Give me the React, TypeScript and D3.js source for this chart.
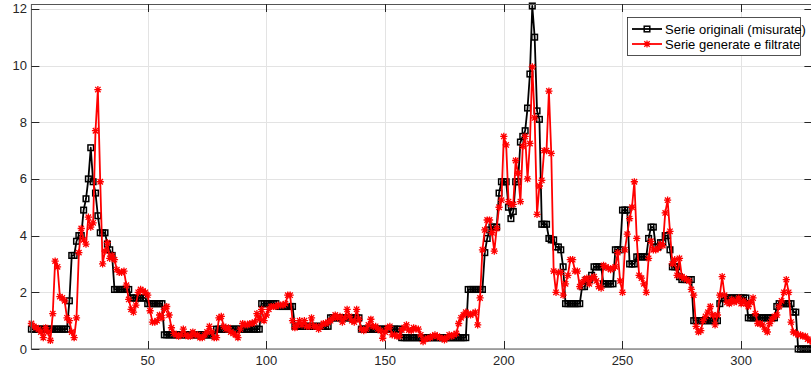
import React, { useEffect, useRef } from 'react';
import * as d3 from 'd3';

// Serie originali (misurate), indices 1..330
const originali: number[] = [
  0.7, 0.7, 0.7, 0.7, 0.7, 0.7, 0.7, 0.7, 0.7, 0.7,
  0.7, 0.7, 0.7, 0.7, 0.7, 0.7, 1.7, 3.3, 3.3, 3.8,
  4.0, 4.0, 4.9, 5.3, 6.0, 7.1, 5.9, 5.5, 4.7, 4.1,
  4.1, 4.1, 3.7, 3.5, 3.3, 2.1, 2.1, 2.1, 2.1, 2.1,
  2.1, 2.1, 1.8, 1.8, 1.8, 1.8, 1.8, 1.8, 1.8, 1.6,
  1.6, 1.6, 1.6, 1.6, 1.6, 1.6, 0.5, 0.5, 0.5, 0.5,
  0.5, 0.5, 0.5, 0.5, 0.5, 0.5, 0.5, 0.5, 0.5, 0.5,
  0.5, 0.5, 0.5, 0.5, 0.5, 0.5, 0.5, 0.5, 0.7, 0.7,
  0.7, 0.7, 0.7, 0.7, 0.7, 0.7, 0.7, 0.7, 0.7, 0.7,
  0.7, 0.7, 0.7, 0.7, 0.7, 0.7, 0.7, 1.6, 1.6, 1.6,
  1.6, 1.6, 1.6, 1.6, 1.5, 1.5, 1.5, 1.5, 1.5, 1.5,
  1.5, 0.8, 0.8, 0.8, 0.8, 0.8, 0.8, 0.8, 0.8, 0.8,
  0.8, 0.8, 0.8, 0.8, 0.8, 0.8, 1.1, 1.1, 1.1, 1.1,
  1.1, 1.1, 1.1, 1.1, 1.1, 1.1, 1.1, 1.1, 1.1, 0.7,
  0.7, 0.7, 0.7, 0.7, 0.7, 0.7, 0.7, 0.7, 0.7, 0.7,
  0.7, 0.7, 0.7, 0.7, 0.7, 0.7, 0.4, 0.4, 0.4, 0.4,
  0.4, 0.4, 0.4, 0.4, 0.4, 0.4, 0.4, 0.4, 0.4, 0.4,
  0.4, 0.4, 0.4, 0.4, 0.4, 0.4, 0.4, 0.4, 0.4, 0.4,
  0.4, 0.4, 0.4, 0.4, 2.1, 2.1, 2.1, 2.1, 2.1, 2.1,
  2.1, 3.4, 3.9, 4.2, 4.3, 4.3, 4.3, 5.5, 5.9, 5.9,
  5.9, 5.0, 4.6, 4.85, 5.9, 5.9, 7.3, 7.5, 7.7, 8.5,
  9.7, 12.1, 11.0, 8.4, 8.1, 4.4, 4.4, 4.4, 3.9, 3.85,
  3.85, 3.6, 3.6, 3.5, 2.9, 1.6, 1.6, 1.6, 1.6, 1.6,
  1.6, 1.6, 2.2, 2.2, 2.45, 2.45, 2.6, 2.9, 2.9, 2.9,
  2.9, 2.3, 2.3, 2.3, 2.3, 2.3, 3.5, 3.5, 3.5, 4.9,
  4.9, 4.9, 3.0, 3.0, 3.0, 3.25, 3.25, 3.25, 3.25, 3.25,
  3.9, 4.3, 4.3, 3.6, 3.6, 3.75, 3.75, 4.0, 4.0, 3.5,
  2.9, 2.9, 2.9, 2.55, 2.45, 2.45, 2.45, 2.45, 2.45, 1.0,
  1.0, 1.0, 1.0, 1.0, 1.0, 1.0, 1.0, 1.0, 1.0, 1.0,
  1.6, 1.8, 1.8, 1.8, 1.8, 1.8, 1.8, 1.8, 1.8, 1.8,
  1.8, 1.8, 1.1, 1.1, 1.1, 1.1, 1.1, 1.1, 1.1, 1.1,
  1.1, 1.1, 1.1, 1.1, 1.5, 1.6, 1.6, 1.6, 1.6, 1.6,
  1.6, 1.3, 1.3, 0.0, 0.0, 0.0, 0.0, 0.0, 0.0, 0.0,
];

// Serie generate e filtrate, indices 1..330
const generate: number[] = [
  0.9, 0.8, 0.75, 0.7, 0.6, 0.4, 0.75, 0.6, 0.3, 1.25,
  3.1, 2.9, 1.85, 1.8, 1.7, 1.1, 1.0, 0.6, 0.4, 1.1,
  3.4, 4.25, 3.85, 3.7, 4.65, 4.3, 4.45, 7.7, 9.15, 5.9,
  3.0, 3.45, 3.75, 3.2, 3.3, 3.15, 2.8, 2.7, 2.7, 2.75,
  2.25, 1.75, 1.4, 1.3, 1.55, 2.0, 2.1, 2.05, 2.0, 1.9,
  1.35, 0.95, 0.95, 1.0, 1.2, 1.1, 1.4, 1.5, 1.2, 0.75,
  0.55, 0.5, 0.45, 0.5, 0.7, 0.5, 0.45, 0.45, 0.6, 0.5,
  0.5, 0.4, 0.4, 0.5, 0.6, 0.8, 0.6, 0.4, 0.4, 1.1,
  1.15, 0.8, 0.7, 0.75, 0.6, 0.55, 0.5, 0.4, 0.7, 0.9,
  0.85, 0.85, 0.9, 0.9, 0.95, 1.25, 1.05, 1.4, 1.0, 1.2,
  1.4, 1.5, 1.5, 1.5, 1.55, 1.55, 1.55, 1.6, 1.9, 1.9,
  1.0, 0.75, 0.85, 1.0, 0.85, 1.0, 0.8, 0.8, 1.1, 0.8,
  0.8, 0.7, 0.8, 0.9, 0.9, 0.95, 1.0, 1.1, 1.2, 1.1,
  1.15, 0.95, 1.1, 1.4, 1.15, 1.0, 0.95, 1.4, 1.05, 0.7,
  0.65, 0.7, 0.85, 1.05, 0.8, 0.8, 0.7, 0.65, 0.38, 0.6,
  0.75, 0.8, 0.5, 0.5, 0.45, 0.45, 0.67, 0.75, 0.85, 0.67,
  0.65, 0.75, 0.7, 0.7, 0.5, 0.26, 0.35, 0.38, 0.4, 0.45,
  0.5, 0.45, 0.4, 0.38, 0.32, 0.4, 0.5, 0.45, 0.5, 0.55,
  0.9, 1.1, 1.2, 1.3, 1.25, 1.2, 1.25, 1.3, 0.85, 1.8,
  3.5, 4.2, 4.55, 4.55, 4.1, 3.45, 4.25, 5.0, 5.25, 7.5,
  7.2, 5.2, 5.1, 5.1, 6.65, 6.2, 5.2, 7.15, 7.5, 6.0,
  7.25, 9.95, 8.15, 4.75, 5.75, 5.95, 7.0, 7.0, 9.1, 6.9,
  2.75, 2.0, 2.7, 2.7, 1.9, 2.3, 2.6, 3.15, 3.15, 2.75,
  2.75, 2.2, 2.35, 2.45, 2.5, 2.3, 2.5, 2.55, 2.4, 2.2,
  2.15, 2.95, 2.9, 2.85, 2.8, 2.85, 2.9, 3.4, 2.4, 2.0,
  3.5, 4.05, 4.6, 5.0, 5.9, 3.9, 2.6, 2.5, 2.3, 2.0,
  3.2, 3.8, 3.5, 3.5, 3.55, 3.7, 3.65, 4.8, 5.25, 4.15,
  3.0, 3.15, 2.6, 3.2, 2.55, 2.5, 2.45, 2.4, 2.1, 1.9,
  0.8, 0.6, 0.65, 1.0, 1.15, 1.3, 1.5, 1.2, 0.85, 1.2,
  1.9, 2.55, 1.9, 1.65, 1.6, 1.75, 1.65, 1.7, 1.8, 1.6,
  1.7, 1.6, 1.5, 1.65, 1.8, 1.25, 0.9, 0.9, 0.85, 0.7,
  0.6, 0.9, 1.05, 1.15, 1.2, 1.5, 1.7, 2.0, 2.45, 2.0,
  0.95, 0.6, 0.55, 0.5, 0.5, 0.45, 0.45, 0.35, 0.3, 0.25,
];

const xTicks = [50, 100, 150, 200, 250, 300];
const yTicks = [0, 2, 4, 6, 8, 10, 12];
const seriesNames = ['Serie originali (misurate)', 'Serie generate e filtrate'];
const seriesColors = ['#000000', '#ff0000'];

export default function App() {
  const ref = useRef<SVGSVGElement>(null);

  useEffect(() => {
    const svg = d3.select(ref.current);
    svg.selectAll('*').remove();

    const W = 811, H = 373;
    const left = 31.4, right = 812.4, top = 4, bottom = 349;
    const x = d3.scaleLinear().domain([1, 330]).range([left, right]);
    const y = d3.scaleLinear().domain([0, 12.17]).range([bottom, top]);
    const axisColor = '#262626';
    const font = "'Liberation Sans', Arial, Helvetica, sans-serif";

    svg.append('rect').attr('width', W).attr('height', H).attr('fill', '#fff');

    // grid
    const grid = svg.append('g').attr('stroke', '#e3e3e3').attr('stroke-width', 1);
    xTicks.forEach((t) => {
      const px = Math.round(x(t)) + 0.5;
      grid.append('line').attr('x1', px).attr('x2', px).attr('y1', top).attr('y2', bottom);
    });
    yTicks.forEach((t) => {
      const py = Math.round(y(t)) + 0.5;
      grid.append('line').attr('x1', left).attr('x2', right).attr('y1', py).attr('y2', py);
    });

    const idx = originali.map((_, i) => i + 1);
    const line = d3.line<number>().x((_, i) => x(idx[i])).y((d) => y(d));

    // black series
    const g1 = svg.append('g');
    g1.append('path').attr('d', line(originali) as string).attr('fill', 'none')
      .attr('stroke', seriesColors[0]).attr('stroke-width', 1.8).attr('stroke-linejoin', 'round');
    const sq = 2.8;
    g1.selectAll('rect.m').data(originali).enter().append('rect')
      .attr('x', (_, i) => x(idx[i]) - sq).attr('y', (d) => y(d) - sq)
      .attr('width', sq * 2).attr('height', sq * 2)
      .attr('fill', 'none').attr('stroke', seriesColors[0]).attr('stroke-width', 1.5);

    // red series
    const star = (s: number) => {
      const k = s * 0.75;
      return `M${-s},0H${s}M0,${-s}V${s}M${-k},${-k}L${k},${k}M${-k},${k}L${k},${-k}`;
    };
    const g2 = svg.append('g');
    g2.append('path').attr('d', line(generate) as string).attr('fill', 'none')
      .attr('stroke', seriesColors[1]).attr('stroke-width', 1.8).attr('stroke-linejoin', 'round');
    g2.selectAll('path.m').data(generate).enter().append('path')
      .attr('transform', (d, i) => `translate(${x(idx[i])},${y(d)})`)
      .attr('d', star(3.6)).attr('fill', 'none')
      .attr('stroke', seriesColors[1]).attr('stroke-width', 1.3);

    // axes box
    const ax = svg.append('g').attr('stroke', axisColor).attr('stroke-width', 1).attr('fill', 'none');
    ax.append('rect').attr('x', left).attr('y', top + 0.5).attr('width', right - left).attr('height', bottom - top - 0.5)
      .attr('stroke', '#555');
    const tl = 8;
    xTicks.forEach((t) => {
      const px = Math.round(x(t)) + 0.5;
      ax.append('line').attr('x1', px).attr('x2', px).attr('y1', bottom).attr('y2', bottom - tl);
      ax.append('line').attr('x1', px).attr('x2', px).attr('y1', top).attr('y2', top + tl);
    });
    yTicks.forEach((t) => {
      const py = Math.round(y(t)) + 0.5;
      ax.append('line').attr('x1', left).attr('x2', left + tl).attr('y1', py).attr('y2', py);
      ax.append('line').attr('x1', right).attr('x2', right - tl).attr('y1', py).attr('y2', py);
    });

    // tick labels
    const lab = svg.append('g').attr('font-family', font).attr('font-size', 13).attr('fill', axisColor);
    xTicks.forEach((t) => {
      lab.append('text').attr('x', x(t)).attr('y', 365).attr('text-anchor', 'middle').text(String(t));
    });
    yTicks.forEach((t) => {
      lab.append('text').attr('x', 27).attr('y', y(t) + 4.5).attr('text-anchor', 'end').text(String(t));
    });

    // legend
    const lg = svg.append('g');
    lg.append('rect').attr('x', 627.5).attr('y', 17.5).attr('width', 173).attr('height', 38)
      .attr('fill', '#fff').attr('stroke', axisColor).attr('stroke-width', 0.8);
    seriesNames.forEach((name, i) => {
      const cy = 29 + i * 15;
      lg.append('line').attr('x1', 632).attr('x2', 662).attr('y1', cy).attr('y2', cy)
        .attr('stroke', seriesColors[i]).attr('stroke-width', 1.8);
      if (i === 0) {
        lg.append('rect').attr('x', 647 - sq).attr('y', cy - sq).attr('width', sq * 2).attr('height', sq * 2)
          .attr('fill', 'none').attr('stroke', seriesColors[0]).attr('stroke-width', 1.5);
      } else {
        lg.append('path').attr('transform', `translate(647,${cy})`).attr('d', star(3.6))
          .attr('fill', 'none').attr('stroke', seriesColors[1]).attr('stroke-width', 1.3);
      }
      lg.append('text').attr('x', 665).attr('y', cy + 4.5).attr('font-family', font)
        .attr('font-size', 13).attr('fill', '#000').text(name);
    });
  }, []);

  return (
    <svg ref={ref} width={811} height={373}
      style={{ position: 'absolute', left: 0, top: 0, display: 'block' }} />
  );
}
